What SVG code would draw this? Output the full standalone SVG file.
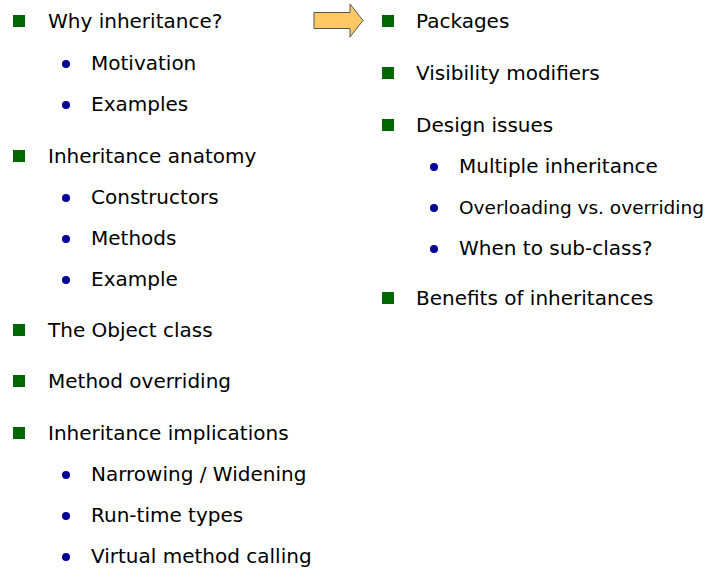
<svg xmlns="http://www.w3.org/2000/svg" width="718" height="570" viewBox="0 0 718 570">
<style>
text{font-family:"Comic Sans MS","DejaVu Sans",sans-serif;font-size:20px;fill:#000}
.sq{fill:#006600}
.dot{fill:#000099}
</style>
<defs>
<rect id="sq" class="sq" x="-6" y="-6" width="12" height="12"/>
<circle id="dot" class="dot" r="4"/>
</defs>
<rect width="718" height="570" fill="#fff"/>
<g id="arrow"><path d="M314,12.5 H350 V4 L363,20.5 L350,37 V28.5 H314 Z" fill="#FFC864" stroke="#555" stroke-width="1"/></g>
<g id="left">
<g id="n1"><use href="#sq" x="19" y="21"/><text x="48" y="28">Why inheritance?</text></g>
<g id="n2"><use href="#dot" x="66" y="64"/><text x="91" y="70">Motivation</text></g>
<g id="n3"><use href="#dot" x="66" y="105"/><text x="91" y="111">Examples</text></g>
<g id="n4"><use href="#sq" x="19" y="156"/><text x="48" y="163">Inheritance anatomy</text></g>
<g id="n5"><use href="#dot" x="66" y="198"/><text x="91" y="204">Constructors</text></g>
<g id="n6"><use href="#dot" x="66" y="239"/><text x="91" y="245">Methods</text></g>
<g id="n7"><use href="#dot" x="66" y="280"/><text x="91" y="286">Example</text></g>
<g id="n8"><use href="#sq" x="19" y="330"/><text x="48" y="337">The Object class</text></g>
<g id="n9"><use href="#sq" x="19" y="381"/><text x="48" y="388">Method overriding</text></g>
<g id="n10"><use href="#sq" x="19" y="433"/><text x="48" y="440">Inheritance implications</text></g>
<g id="n11"><use href="#dot" x="66" y="475"/><text x="91" y="481">Narrowing / Widening</text></g>
<g id="n12"><use href="#dot" x="66" y="516"/><text x="91" y="522">Run-time types</text></g>
<g id="n13"><use href="#dot" x="66" y="557"/><text x="91" y="563">Virtual method calling</text></g>
</g>
<g id="right">
<g id="r1"><use href="#sq" x="388" y="21"/><text x="416" y="28">Packages</text></g>
<g id="r2"><use href="#sq" x="388" y="73"/><text x="416" y="80">Visibility modifiers</text></g>
<g id="r3"><use href="#sq" x="388" y="125"/><text x="416" y="132">Design issues</text></g>
<g id="r4"><use href="#dot" x="434" y="167"/><text x="459" y="173">Multiple inheritance</text></g>
<g id="r5"><use href="#dot" x="434" y="208"/><text x="459" y="214" style="font-size:18.5px">Overloading vs. overriding</text></g>
<g id="r6"><use href="#dot" x="434" y="249"/><text x="459" y="255">When to sub-class?</text></g>
<g id="r7"><use href="#sq" x="388" y="298"/><text x="416" y="305">Benefits of inheritances</text></g>
</g>
</svg>
